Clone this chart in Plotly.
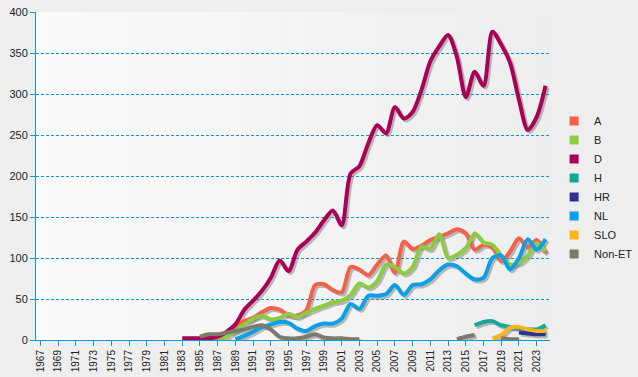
import plotly.graph_objects as go

years = list(range(1983, 2025))

A = [None, None, 1, 3, 5, 9, 18, 23, 27, 34, 39, 37, 30, 30, 36, 67, 68, 61, 58, 89,
     86, 79, 92, 103, 82, 120, 111, 115, 122, 126, 130, 135, 130, 110, 116, 113, 96, 108, 124, 113,
     122, 106]
B = [None, None, None, None, 1, 4, 11, 19, 26, 30, 25, 27, 32, 28, 33, 38, 42, 46, 48, 55,
     69, 64, 72, 92, 89, 81, 89, 114, 111, 129, 100, 104, 112, 130, 119, 116, 102, 92, 94, 103,
     118, 108]
D = [2, 2, 2, 2, 4, 10, 19, 37, 48, 60, 76, 97, 84, 110, 120, 131, 146, 158, 140, 203,
     212, 240, 262, 252, 284, 270, 278, 305, 340, 358, 372, 345, 296, 327, 310, 376, 360, 338, 293, 256,
     272, 310]
H = [None] * 33 + [18, 22, 23, 18, 16, 14, 13, 13, 18]
HR = [None] * 38 + [9, 8, 7, 7]
NL = [None, None, None, None, None, None, 1, 5, 10, 16, 19, 22, 21, 14, 11, 17, 20, 20, 26, 44,
      38, 54, 54, 56, 67, 55, 67, 68, 74, 85, 92, 90, 81, 74, 76, 100, 103, 86, 100, 123,
      110, 123]
SLO = [None] * 35 + [2, 6, 15, 16, 13, 11, 11]
NonET = [None, None, 4, 7, 7, 9, 11, 13, 16, 18, 13, 4, 2, 2, 4, 7, 3, 2, 2, 1,
         1, None, None, None, None, None, None, None, None, None, None, 1, 4, 6, None, None, 2, 1, 1, None,
         None, None]

series_names = ["A", "B", "D", "H", "HR", "NL", "SLO", "Non-ET"]
series_values = [A, B, D, H, HR, NL, SLO, NonET]
colors = ["#F4604A", "#8DCB41", "#AA0055", "#13A89A", "#2E3192", "#0AA0E6", "#FDB515", "#7B7B6B"]

tick_years = list(range(1967, 2025, 2))
tick_labels = [str(y) for y in tick_years]

XR = [1966.5, 2024.5]
YR = [0, 400]
PLOT_W = 514
PLOT_H = 328
dx = (XR[1] - XR[0]) / PLOT_W * 2.0
dy = (YR[1] - YR[0]) / PLOT_H * 2.0

BLUE = "#0A99DA"
FONT = "Liberation Sans, Arial, sans-serif"

fig = go.Figure()

# legend entries (on the main, visible axes)
for name, c in zip(series_names, colors):
    fig.add_trace(go.Scatter(
        x=[None], y=[None], mode="markers", name=name,
        marker=dict(symbol="square", size=9, color=c), showlegend=True))

# shadows
for name, vals in zip(series_names, series_values):
    fig.add_trace(go.Scatter(
        x=years, y=vals, mode="lines", xaxis="x2", yaxis="y2",
        line=dict(color="rgba(110,110,110,0.45)", width=4, shape="spline", smoothing=0.8),
        showlegend=False, hoverinfo="skip", connectgaps=False))

# main lines
for name, vals, c in zip(series_names, series_values, colors):
    fig.add_trace(go.Scatter(
        x=years, y=vals, mode="lines", xaxis="x3", yaxis="y3", name=name,
        line=dict(color=c, width=4, shape="spline", smoothing=0.8),
        showlegend=False, connectgaps=False))

# background gradient strips
n = 40
for i in range(n):
    t = (i + 0.5) / n
    g = int(round(251 - 14 * t))
    fig.add_shape(type="rect", xref="paper", yref="paper", x0=i / n, x1=(i + 1) / n + 0.001,
                  y0=0, y1=1, fillcolor=f"rgb({g},{g},{g})", line=dict(width=0), layer="below")

fig.update_layout(
    width=638, height=377,
    margin=dict(l=36, r=88, t=12, b=37, autoexpand=False),
    paper_bgcolor="#EEEEEE", plot_bgcolor="#EEEEEE",
    font=dict(family=FONT, size=11, color="#222222"),
    hovermode=False,
    xaxis=dict(range=XR, tickmode="array", tickvals=tick_years, ticktext=tick_labels,
               tickangle=-90, ticks="outside", ticklen=5, tickcolor=BLUE, tickwidth=1,
               showline=True, linecolor=BLUE, linewidth=1, showgrid=False, zeroline=False,
               automargin=False, tickfont=dict(size=10, color="#222222")),
    yaxis=dict(range=YR, tickmode="linear", tick0=0, dtick=50,
               ticks="outside", ticklen=5, tickcolor=BLUE, tickwidth=1,
               showline=True, linecolor=BLUE, linewidth=1, showgrid=True,
               gridcolor=BLUE, gridwidth=1, griddash="3px,2px", zeroline=False,
               automargin=False, tickfont=dict(size=11, color="#222222")),
    xaxis2=dict(range=[XR[0] - dx, XR[1] - dx], overlaying="x", anchor="y2", visible=False),
    yaxis2=dict(range=[YR[0] + dy, YR[1] + dy], overlaying="y", anchor="x2", visible=False),
    xaxis3=dict(range=XR, overlaying="x", anchor="y3", visible=False),
    yaxis3=dict(range=YR, overlaying="y", anchor="x3", visible=False),
    legend=dict(x=1.008, xanchor="left", y=0.712, yanchor="top",
                bgcolor="rgba(0,0,0,0)", font=dict(size=11, color="#222222"),
                itemwidth=30, tracegroupgap=0),
)

fig.write_html("out.html",
               config={"displayModeBar": False, "staticPlot": True},
               post_script="document.body.style.margin='0';document.body.style.padding='0';"
                           "document.body.style.overflow='hidden';")
